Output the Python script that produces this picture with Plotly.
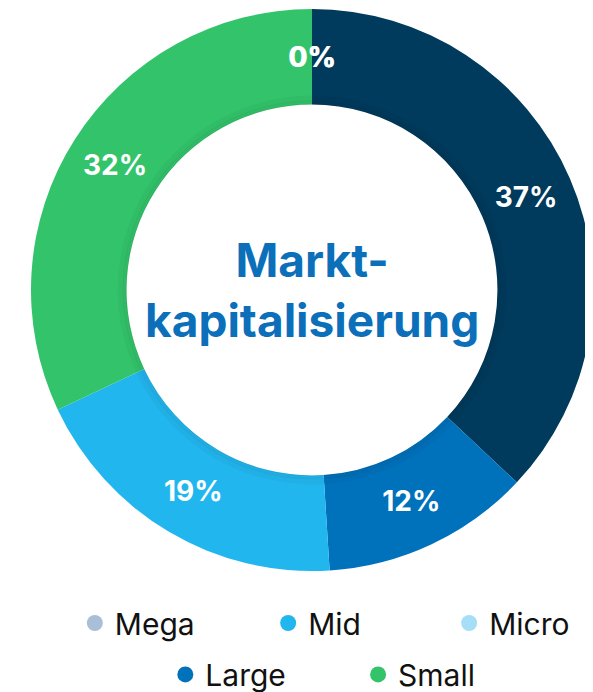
import math
import plotly.graph_objects as go

# Data
slice_labels = ["Mega", "Giant", "Large", "Mid", "Small", "Micro"]
slice_values = [0, 37, 12, 19, 32, 0]
slice_colors = ["#a9bfd8", "#003a5c", "#0071bb", "#22b6ee", "#33c46b", "#a7def7"]

legend_rows = [["Mega", "Mid", "Micro"], ["Large", "Small"]]
center_text = "Markt-<br>kapitalisierung"

color_of = dict(zip(slice_labels, slice_colors))
FONT = "Inter"

# page body adds an 8px offset, so the figure is 8px smaller than the window
W, H = 585, 684
ML, MR, MT, MB = 23, 0, 1, 121
HOLE = 0.66
TEXT_SIZE = 28

fig = go.Figure()
fig.add_trace(go.Pie(
    labels=slice_labels,
    values=slice_values,
    marker=dict(colors=slice_colors, line=dict(width=0)),
    hole=HOLE,
    sort=False,
    direction="clockwise",
    rotation=0,
    texttemplate="%{percent:.0%}",
    textposition="inside",
    insidetextorientation="horizontal",
    textfont=dict(family=FONT, size=TEXT_SIZE, color="white", weight="bold"),
    showlegend=False,
    hoverinfo="label+percent",
    domain=dict(x=[0, 1], y=[0, 1]),
))

pw, ph = W - ML - MR, H - MT - MB
radius = min(pw, ph) / 2
hole_r = radius * HOLE
mid_r = radius * (1 + HOLE) / 2
total = sum(slice_values)

# Labels for zero-value slices (plotly draws no text for empty slices):
annotations = []
cum = 0.0
for lab, v in zip(slice_labels, slice_values):
    ang = (cum + v / 2) / total * 2 * math.pi
    cum += v
    if v == 0:
        annotations.append(dict(
            text=f"{v / total:.0%}",
            x=0.5 + mid_r * math.sin(ang) / pw,
            y=0.5 + mid_r * math.cos(ang) / ph,
            xref="paper", yref="paper", showarrow=False,
            xanchor="center", yanchor="middle",
            font=dict(family=FONT, size=TEXT_SIZE, color="white", weight="bold"),
        ))

annotations.append(dict(
    text=center_text, x=0.5, y=0.5, xref="paper", yref="paper",
    showarrow=False, xanchor="center", yanchor="middle",
    font=dict(family=FONT, size=46, color="#0b6fba", weight="bold"),
))

# soft shadow around the hole
shapes = []
for extra, width, alpha in [(6, 6, 0.03), (2.5, 3, 0.05), (0.5, 1, 0.10)]:
    r = hole_r + extra
    shapes.append(dict(
        type="circle", xref="paper", yref="paper",
        x0=0.5 - r / pw, x1=0.5 + r / pw, y0=0.5 - r / ph, y1=0.5 + r / ph,
        line=dict(color=f"rgba(0,0,0,{alpha})", width=width),
    ))

# legend entries (separate legends for exact placement)
legend_pos = {
    "Mega": (0.078, -0.0925), "Mid": (0.422, -0.0925), "Micro": (0.744, -0.0925),
    "Large": (0.239, -0.184), "Small": (0.582, -0.184),
}
layout_legends = {}
for i, name in enumerate([n for row in legend_rows for n in row]):
    key = "legend" if i == 0 else f"legend{i+1}"
    fig.add_trace(go.Scatter(
        x=[None], y=[None], mode="markers", name=name,
        marker=dict(size=16, color=color_of[name]),
        legend=key, showlegend=True, hoverinfo="skip",
    ))
    lx, ly = legend_pos[name]
    layout_legends[key] = dict(
        x=lx, y=ly, xanchor="left", yanchor="middle",
        orientation="h", bgcolor="rgba(0,0,0,0)",
        font=dict(family=FONT, size=30, color="#111111"),
        itemclick=False, itemdoubleclick=False,
    )

fig.update_layout(
    width=W, height=H,
    margin=dict(l=ML, r=MR, t=MT, b=MB, autoexpand=False),
    paper_bgcolor="white", plot_bgcolor="white",
    xaxis=dict(visible=False), yaxis=dict(visible=False),
    annotations=annotations,
    shapes=shapes,
    **layout_legends,
)

fig.write_html("out.html")
